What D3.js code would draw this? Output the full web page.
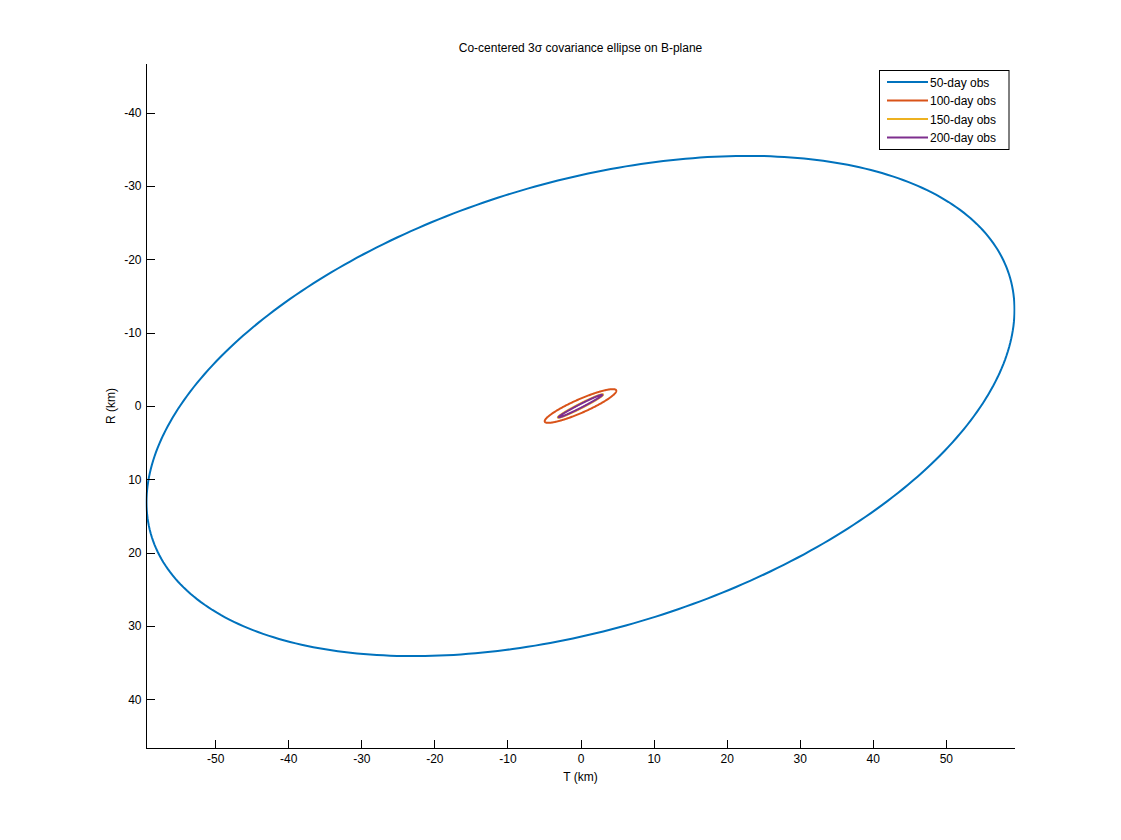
<!DOCTYPE html>
<html>
<head>
<meta charset="utf-8">
<script src="https://cdn.jsdelivr.net/npm/d3@7/dist/d3.min.js"></script>
<style>
  html, body { margin: 0; padding: 0; background: #fff; }
  svg { display: block; font-family: "Liberation Sans", Arial, sans-serif; }
  .axis path, .axis line { stroke: #000; shape-rendering: crispEdges; }
  .axis text { fill: #000; font-size: 12px; }
</style>
</head>
<body>
<svg id="chart" width="1121" height="840"></svg>
<script>
// ---- data ----
const seriesNames = ["50-day obs", "100-day obs", "150-day obs", "200-day obs"];
const seriesColors = ["#0072BD", "#D95319", "#EDB120", "#7E2F8E"];
// 3-sigma half-extent along T (km) of each co-centered ellipse
const tExtent = [59.4, 4.9, 3.1, 3.0];
// 3-sigma half-extent along R (km)
const rExtent = [34.1, 2.3, 1.6, 1.55];
// T-R correlation of each covariance
const correlation = [-0.385, -0.90, -0.975, -0.985];
const xTicks = [-50, -40, -30, -20, -10, 0, 10, 20, 30, 40, 50];
const yTicks = [-40, -30, -20, -10, 0, 10, 20, 30, 40];
const xDomain = [-59.4, 59.4];
const yDomain = [-46.7, 46.7];
const titleText = "Co-centered 3\u03C3 covariance ellipse on B-plane";
const xLabel = "T (km)";
const yLabel = "R (km)";

// ---- layout ----
const svg = d3.select("#chart");
const plot = { left: 146.5, right: 1014.5, top: 63.5, bottom: 748.5 };

const x = d3.scaleLinear().domain(xDomain).range([plot.left, plot.right]);
const y = d3.scaleLinear().domain(yDomain).range([plot.top, plot.bottom]);

// ellipse outline points from each covariance (3-sigma contour)
function ellipsePoints(i) {
  const rho = correlation[i];
  const s = Math.sqrt(1 - rho * rho);
  return d3.range(0, 361).map(deg => {
    const th = deg * Math.PI / 180;
    return [tExtent[i] * Math.cos(th), rExtent[i] * (rho * Math.cos(th) + s * Math.sin(th))];
  });
}

const line = d3.line().x(d => x(d[0])).y(d => y(d[1]));

svg.append("clipPath").attr("id", "clip")
  .append("rect")
  .attr("x", plot.left - 1).attr("y", plot.top)
  .attr("width", plot.right - plot.left + 2).attr("height", plot.bottom - plot.top);

const g = svg.append("g").attr("clip-path", "url(#clip)");
seriesNames.forEach((name, i) => {
  g.append("path")
    .datum(ellipsePoints(i))
    .attr("d", line)
    .attr("fill", "none")
    .attr("stroke", seriesColors[i])
    .attr("stroke-width", 2);
});

// axes (hyphen-minus labels like the original)
const fmt = d => String(d);
const xAxis = d3.axisBottom(x).tickValues(xTicks).tickSizeInner(-9).tickSizeOuter(0).tickPadding(6)
  .tickFormat(fmt);
const gx = svg.append("g").attr("class", "axis")
  .attr("transform", `translate(0,${plot.bottom})`).call(xAxis);
gx.select(".domain").attr("d", `M${plot.left},0H${plot.right}`);

const yAxis = d3.axisLeft(y).tickValues(yTicks).tickSizeInner(-8).tickSizeOuter(0).tickPadding(5)
  .tickFormat(fmt);
const gy = svg.append("g").attr("class", "axis")
  .attr("transform", `translate(${plot.left},0)`).call(yAxis);
gy.select(".domain").attr("d", `M0,${plot.top}V${plot.bottom}`);

// labels
svg.append("text").attr("x", (plot.left + plot.right) / 2).attr("y", 52)
  .attr("text-anchor", "middle").attr("font-size", 12).text(titleText);
svg.append("text").attr("x", 580.5).attr("y", 781)
  .attr("text-anchor", "middle").attr("font-size", 12).text(xLabel);
svg.append("text").attr("transform", `translate(115,${(plot.top + plot.bottom) / 2}) rotate(-90)`)
  .attr("text-anchor", "middle").attr("font-size", 12).text(yLabel);

// legend
const lg = svg.append("g");
lg.append("rect").attr("x", 879.5).attr("y", 70.5).attr("width", 129.5).attr("height", 79)
  .attr("fill", "#fff").attr("stroke", "#000").attr("stroke-width", 1);
const rowY = [82, 100.5, 119, 137.5];
seriesNames.forEach((name, i) => {
  lg.append("line").attr("x1", 887).attr("x2", 928).attr("y1", rowY[i]).attr("y2", rowY[i])
    .attr("stroke", seriesColors[i]).attr("stroke-width", 2);
  lg.append("text").attr("x", 930).attr("y", rowY[i] + 4.5).attr("font-size", 12).text(name);
});
</script>
</body>
</html>
